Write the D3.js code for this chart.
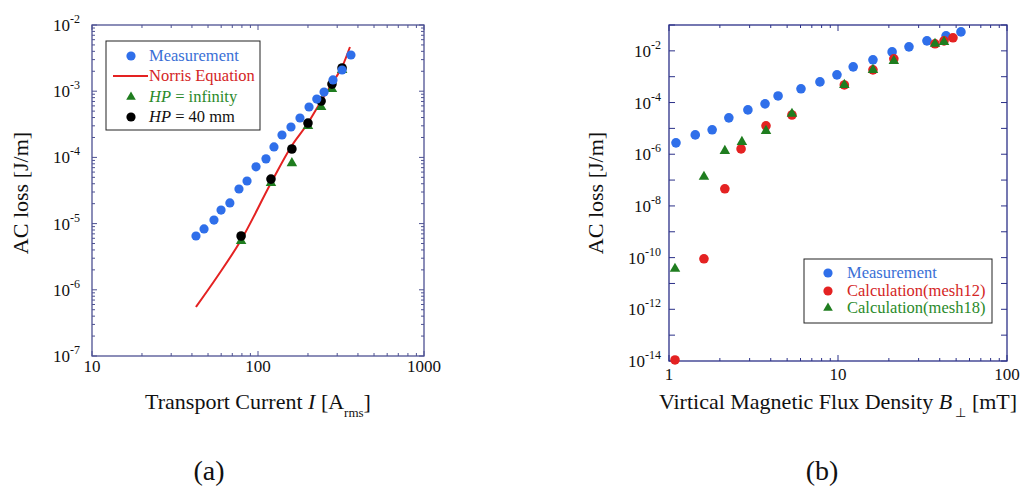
<!DOCTYPE html>
<html>
<head>
<meta charset="utf-8">
<script src="https://cdn.jsdelivr.net/npm/d3@7"></script>
<style>
  body { margin: 0; background: #fff; }
  svg { display: block; font-family: "Liberation Serif", "Times New Roman", serif; }
</style>
</head>
<body>
<div id="chart"></div>
<script>
// ---- panel (a): loss vs transport current ----
const measCurrent = [42.3, 47.3, 54.3, 59.9, 67.7, 76.8, 85.9, 97.3, 111.7, 124.8, 139.5, 158, 179, 203, 226, 250, 283, 321, 363];
const measLossA = [6.5e-6, 8.3e-6, 1.13e-5, 1.6e-5, 2.05e-5, 3.33e-5, 4.4e-5, 7.2e-5, 9.5e-5, 1.44e-4, 2.18e-4, 2.88e-4, 3.94e-4, 5.77e-4, 7.6e-4, 9.7e-4, 1.48e-3, 2.09e-3, 3.52e-3];
const norrisCurrent = [42.3, 56.6, 79.1, 119.7, 158, 200, 236, 283, 321, 358];
const norrisLoss = [5.5e-7, 1.56e-6, 5.65e-6, 4.1e-5, 1.44e-4, 3.3e-4, 6.6e-4, 1.38e-3, 2.32e-3, 4.65e-3];
const hpInfCurrent = [79.1, 119.7, 160, 200, 240, 279, 321];
const hpInfLoss = [5.46e-6, 4.1e-5, 8.2e-5, 2.98e-4, 5.77e-4, 1.08e-3, 2.09e-3];
const hp40Current = [79.1, 119.7, 160, 200, 240, 279, 321];
const hp40Loss = [6.5e-6, 4.7e-5, 1.34e-4, 3.3e-4, 7.1e-4, 1.28e-3, 2.24e-3];
const xTicksA = [10, 100, 1000];
const yExpA = [-7, -6, -5, -4, -3, -2];

// ---- panel (b): loss vs perpendicular field ----
const measField = [1.10, 1.43, 1.80, 2.26, 2.93, 3.70, 4.42, 6.04, 7.82, 9.86, 12.3, 16.1, 20.9, 26.3, 33.6, 43.6, 53.4];
const measLossB = [2.76e-6, 5.6e-6, 8.8e-6, 2.56e-5, 5.2e-5, 8.9e-5, 1.8e-4, 3.4e-4, 6.3e-4, 1.18e-3, 2.4e-3, 4.5e-3, 9.1e-3, 1.43e-2, 2.44e-2, 3.8e-2, 5.4e-2];
const mesh12Field = [1.085, 1.61, 2.14, 2.67, 3.75, 5.34, 10.9, 16.1, 21.4, 37.5, 42.4, 47.9];
const mesh12Loss = [1.1e-14, 9.0e-11, 4.6e-8, 1.6e-6, 1.26e-5, 3.3e-5, 4.8e-4, 1.84e-3, 4.9e-3, 1.87e-2, 2.44e-2, 3.2e-2];
const mesh18Field = [1.085, 1.61, 2.14, 2.70, 3.75, 5.34, 10.9, 16.1, 21.4, 37.5, 42.4];
const mesh18Loss = [3.7e-11, 1.34e-7, 1.35e-6, 3.0e-6, 8.0e-6, 3.66e-5, 4.8e-4, 1.84e-3, 4.1e-3, 1.87e-2, 2.23e-2];
const xTicksB = [1, 10, 100];
const yExpB = [-14, -12, -10, -8, -6, -4, -2];

const BLUE = "#2f6fea", RED = "#e42222", GREEN = "#1f7d1f";

const svg = d3.select("#chart").append("svg").attr("width", 1022).attr("height", 493);

function zip(a, b) { return a.map((v, i) => [v, b[i]]); }

function frame(g, x, y, color, minorY, tickLen) {
    const [x0, x1] = x.range(), [y0, y1] = y.range();
    g.append("rect").attr("x", x0).attr("y", y1).attr("width", x1 - x0).attr("height", y0 - y1)
        .attr("fill", "none").attr("stroke", color).attr("stroke-width", 1.3);
    const t = g.append("g").attr("stroke", color).attr("stroke-width", 1);
    // x ticks (bottom + top), with log minors
    const [dx0, dx1] = x.domain();
    for (let e = Math.round(Math.log10(dx0)); e < Math.round(Math.log10(dx1)) + 1; e++) {
        for (let m = 1; m <= 9; m++) {
            const v = m * Math.pow(10, e);
            if (v < dx0 * 0.999 || v > dx1 * 1.001) continue;
            const len = m === 1 ? tickLen : 3, px = x(v);
            t.append("line").attr("x1", px).attr("x2", px).attr("y1", y0).attr("y2", y0 - len);
            t.append("line").attr("x1", px).attr("x2", px).attr("y1", y1).attr("y2", y1 + len);
        }
    }
    // y ticks (left + right)
    const [dy0, dy1] = y.domain();
    for (let e = Math.round(Math.log10(dy0)); e <= Math.round(Math.log10(dy1)); e++) {
        for (let m = 1; m <= (minorY ? 9 : 1); m++) {
            const v = m * Math.pow(10, e);
            if (v < dy0 * 0.999 || v > dy1 * 1.001) continue;
            const len = m === 1 ? tickLen : 3, py = y(v);
            t.append("line").attr("x1", x0).attr("x2", x0 + len).attr("y1", py).attr("y2", py);
            t.append("line").attr("x1", x1).attr("x2", x1 - len).attr("y1", py).attr("y2", py);
        }
    }
}

function yLabels(g, x, y, exps, gap) {
    exps.forEach(e => {
        const tx = g.append("text").attr("x", x.range()[0] - gap).attr("y", y(Math.pow(10, e)) + 6)
            .attr("text-anchor", "end").style("font-size", "17px").attr("fill", "#111");
        tx.append("tspan").text("10");
        tx.append("tspan").attr("dy", -8).style("font-size", "12px").text(String(e));
    });
}

function xLabels(g, x, y, ticks, dy) {
    ticks.forEach(v => {
        g.append("text").attr("x", x(v)).attr("y", y.range()[0] + dy)
            .attr("text-anchor", "middle").style("font-size", "17px").attr("fill", "#111").text(v);
    });
}

function yTitle(cx, cy) {
    svg.append("text").attr("transform", `translate(${cx},${cy}) rotate(-90)`)
        .attr("text-anchor", "middle").style("font-size", "22px").attr("fill", "#111").text("AC loss [J/m]");
}

function dots(g, x, y, pts, r, fill) {
    g.selectAll(null).data(pts).join("circle")
        .attr("cx", d => x(d[0])).attr("cy", d => y(d[1])).attr("r", r).attr("fill", fill);
}
function tris(g, x, y, pts, size, fill) {
    g.selectAll(null).data(pts).join("path")
        .attr("d", d3.symbol(d3.symbolTriangle, size))
        .attr("transform", d => `translate(${x(d[0])},${y(d[1])})`).attr("fill", fill);
}

// ================= panel (a) =================
const gA = svg.append("g");
const xA = d3.scaleLog().domain([10, 1000]).range([92, 424]);
const yA = d3.scaleLog().domain([1e-7, 1e-2]).range([356, 25]);
frame(gA, xA, yA, "#4d5192", true, 5);
yLabels(gA, xA, yA, yExpA, 12);
xLabels(gA, xA, yA, xTicksA, 16);
yTitle(28, 193);
{
    const t = svg.append("text").attr("x", 258).attr("y", 409).attr("text-anchor", "middle")
        .style("font-size", "22px").attr("fill", "#111");
    t.append("tspan").text("Transport Current ");
    t.append("tspan").style("font-style", "italic").text("I");
    t.append("tspan").text(" [A");
    t.append("tspan").attr("dy", 8).style("font-size", "13px").text("rms");
    t.append("tspan").attr("dy", -8).text("]");
}
gA.append("path").datum(zip(norrisCurrent, norrisLoss))
    .attr("d", d3.line().x(d => xA(d[0])).y(d => yA(d[1])).curve(d3.curveMonotoneX))
    .attr("fill", "none").attr("stroke", RED).attr("stroke-width", 2);
tris(gA, xA, yA, zip(hpInfCurrent, hpInfLoss), 48, GREEN);
dots(gA, xA, yA, zip(hp40Current, hp40Loss), 4.8, "#000");
dots(gA, xA, yA, zip(measCurrent, measLossA), 4.6, BLUE);

// legend (a)
{
    const lg = svg.append("g");
    lg.append("rect").attr("x", 106).attr("y", 41).attr("width", 154).attr("height", 89)
        .attr("fill", "#fff").attr("stroke", "#222").attr("stroke-width", 1);
    const rows = [
        { y: 56, kind: "dot", color: BLUE, text: [["Measurement", false]], tc: "#3a6fd6" },
        { y: 76, kind: "line", color: RED, text: [["Norris Equation", false]], tc: "#d42525" },
        { y: 97, kind: "tri", color: GREEN, text: [["HP", true], [" = infinity", false]], tc: "#2a8a2a" },
        { y: 117, kind: "dot", color: "#000", text: [["HP", true], [" = 40 mm", false]], tc: "#111" }
    ];
    rows.forEach(r => {
        if (r.kind === "dot") lg.append("circle").attr("cx", 131).attr("cy", r.y).attr("r", 4.6).attr("fill", r.color);
        if (r.kind === "tri") lg.append("path").attr("d", d3.symbol(d3.symbolTriangle, 40))
            .attr("transform", `translate(131,${r.y})`).attr("fill", r.color);
        if (r.kind === "line") lg.append("line").attr("x1", 113).attr("x2", 148).attr("y1", r.y).attr("y2", r.y)
            .attr("stroke", r.color).attr("stroke-width", 2);
        const t = lg.append("text").attr("x", 149).attr("y", r.y + 5).style("font-size", "16.5px").attr("fill", r.tc);
        r.text.forEach(([s, it]) => t.append("tspan").style("font-style", it ? "italic" : "normal").text(s));
    });
}

// ================= panel (b) =================
const gB = svg.append("g");
const xB = d3.scaleLog().domain([1, 100]).range([669, 1007]);
const yB = d3.scaleLog().domain([1e-14, 1e-1]).range([361, 25]);
frame(gB, xB, yB, "#2b3088", false, 6);
yLabels(gB, xB, yB, yExpB, 8);
xLabels(gB, xB, yB, xTicksB, 19);
yTitle(603, 193);
{
    const t = svg.append("text").attr("x", 838).attr("y", 409).attr("text-anchor", "middle")
        .style("font-size", "22px").attr("fill", "#111");
    t.append("tspan").text("Virtical Magnetic Flux Density ");
    t.append("tspan").style("font-style", "italic").text("B");
    t.append("tspan").attr("dy", 8).style("font-size", "13px").text(" ⊥");
    t.append("tspan").attr("dy", -8).text("  [mT]");
}
dots(gB, xB, yB, zip(measField, measLossB), 4.8, BLUE);
dots(gB, xB, yB, zip(mesh12Field, mesh12Loss), 4.8, RED);
tris(gB, xB, yB, zip(mesh18Field, mesh18Loss), 48, GREEN);

// legend (b)
{
    const lg = svg.append("g");
    lg.append("rect").attr("x", 804).attr("y", 259).attr("width", 188).attr("height", 64)
        .attr("fill", "#fff").attr("stroke", "#222").attr("stroke-width", 1);
    const rows = [
        { y: 273, kind: "dot", color: BLUE, text: "Measurement", tc: "#3a6fd6" },
        { y: 291, kind: "dot", color: RED, text: "Calculation(mesh12)", tc: "#d42525" },
        { y: 308, kind: "tri", color: GREEN, text: "Calculation(mesh18)", tc: "#2a8a2a" }
    ];
    rows.forEach(r => {
        if (r.kind === "dot") lg.append("circle").attr("cx", 828).attr("cy", r.y).attr("r", 4.6).attr("fill", r.color);
        else lg.append("path").attr("d", d3.symbol(d3.symbolTriangle, 40))
            .attr("transform", `translate(828,${r.y})`).attr("fill", r.color);
        lg.append("text").attr("x", 847).attr("y", r.y + 5).style("font-size", "16.5px").attr("fill", r.tc).text(r.text);
    });
}

// panel captions
svg.append("text").attr("x", 209).attr("y", 480).attr("text-anchor", "middle").style("font-size", "28px").attr("fill", "#111").text("(a)");
svg.append("text").attr("x", 822).attr("y", 480).attr("text-anchor", "middle").style("font-size", "28px").attr("fill", "#111").text("(b)");
</script>
</body>
</html>
